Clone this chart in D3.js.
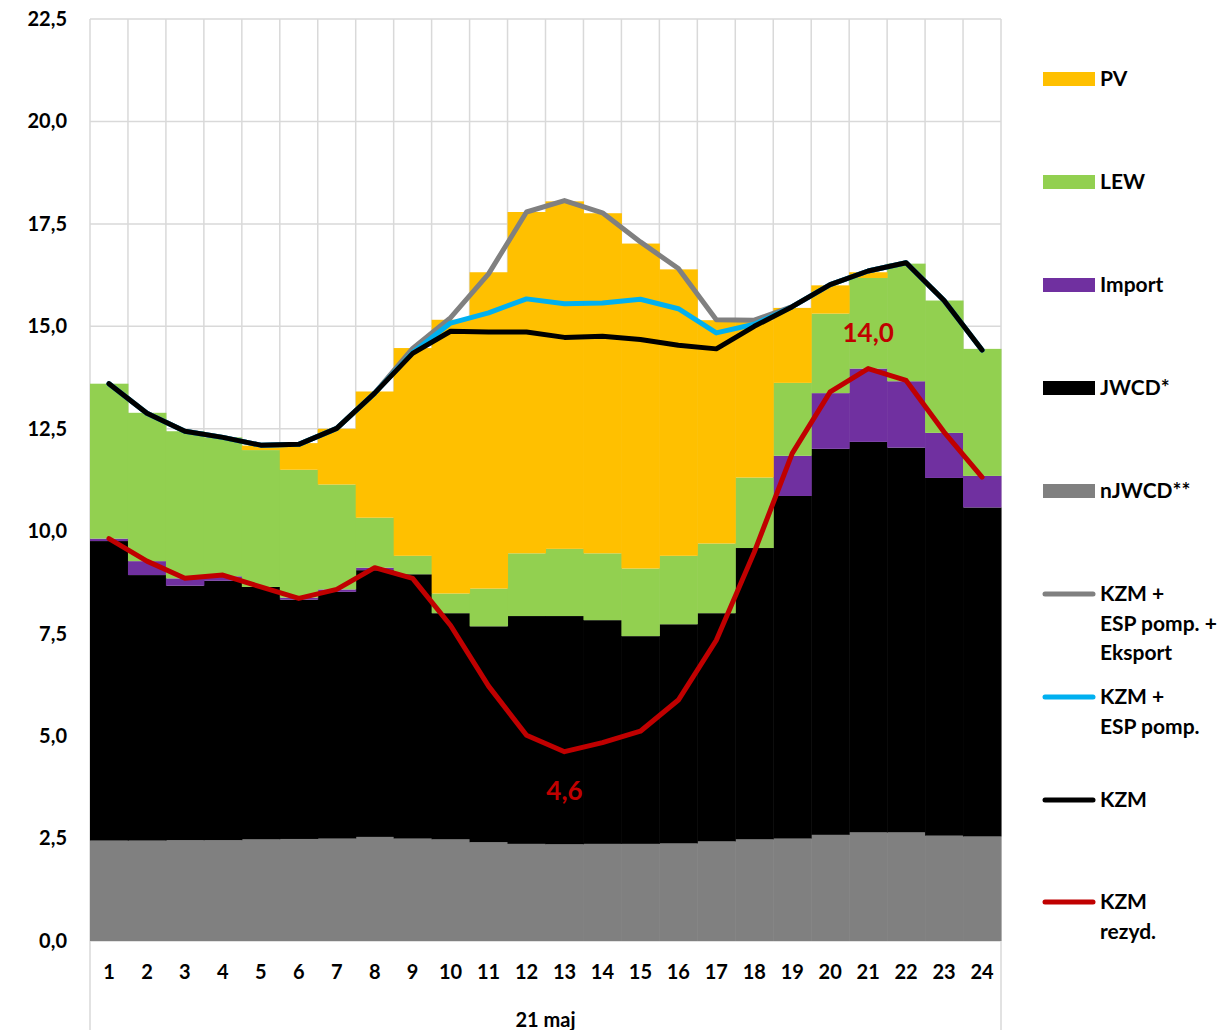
<!DOCTYPE html>
<html>
<head>
<meta charset="utf-8">
<script src="https://cdn.jsdelivr.net/npm/d3@7"></script>
<style>
  body { margin: 0; background: #fff; }
  text { font-family: Lato, 'Open Sans', sans-serif; font-weight: bold; fill: #000; }
</style>
</head>
<body>
<div id="chart"></div>
<script>
// hours of the day
var hours = ['1', '2', '3', '4', '5', '6', '7', '8', '9', '10', '11', '12',
  '13', '14', '15', '16', '17', '18', '19', '20', '21', '22', '23', '24']

// stacked sources (GW)
var nJWCD = [2.45, 2.45, 2.46, 2.46, 2.48, 2.49, 2.50, 2.54, 2.50, 2.48, 2.41, 2.37,
  2.36, 2.37, 2.37, 2.38, 2.43, 2.48, 2.50, 2.59, 2.65, 2.65, 2.57, 2.55]
var JWCD = [7.31, 6.48, 6.21, 6.33, 6.16, 5.84, 6.02, 6.51, 6.45, 5.52, 5.27, 5.56,
  5.57, 5.46, 5.07, 5.35, 5.57, 7.11, 8.36, 9.42, 9.53, 9.39, 8.73, 8.03]
var importData = [0.06, 0.34, 0.18, 0.11, 0.00, 0.05, 0.06, 0.06, 0.00, 0.00, 0.00, 0.00,
  0.00, 0.00, 0.00, 0.00, 0.00, 0.00, 0.98, 1.36, 1.79, 1.62, 1.10, 0.77]
var LEW = [3.78, 3.62, 3.59, 3.39, 3.34, 3.12, 2.56, 1.22, 0.45, 0.48, 0.92, 1.53,
  1.64, 1.63, 1.65, 1.67, 1.70, 1.72, 1.78, 1.94, 2.21, 2.87, 3.23, 3.10]
var PV = [0.00, 0.00, 0.00, 0.00, 0.11, 0.65, 1.36, 3.08, 5.07, 6.68, 7.72, 8.33,
  8.48, 8.30, 7.93, 6.99, 5.45, 3.84, 1.83, 0.69, 0.14, 0.00, 0.00, 0.00]

// demand lines
var kzmEspEksport = [13.60, 12.88, 12.44, 12.29, 12.10, 12.12, 12.51, 13.37, 14.46, 15.21, 16.28, 17.79,
  18.07, 17.77, 17.06, 16.41, 15.16, 15.15, 15.48, 16.02, 16.35, 16.55, 15.63, 14.42]
var kzmEsp = [13.60, 12.88, 12.44, 12.29, 12.10, 12.12, 12.51, 13.37, 14.36, 15.08, 15.33, 15.67,
  15.55, 15.57, 15.66, 15.43, 14.84, 15.05, 15.48, 16.02, 16.35, 16.55, 15.63, 14.42]
var kzm = [13.60, 12.88, 12.44, 12.29, 12.10, 12.12, 12.51, 13.37, 14.34, 14.88, 14.86, 14.86,
  14.73, 14.76, 14.68, 14.54, 14.45, 15.00, 15.48, 16.02, 16.35, 16.55, 15.63, 14.42]
var kzmRezyd = [9.82, 9.27, 8.85, 8.93, 8.64, 8.36, 8.58, 9.11, 8.85, 7.70, 6.22, 5.02,
  4.62, 4.84, 5.12, 5.88, 7.34, 9.49, 11.90, 13.40, 13.97, 13.68, 12.42, 11.32]

var yTicks = [0, 2.5, 5, 7.5, 10, 12.5, 15, 17.5, 20, 22.5]

var areaNames = ['nJWCD**', 'JWCD*', 'Import', 'LEW', 'PV']
var areaColors = ['#808080', '#000000', '#7030A0', '#92D050', '#FFC000']
var lineNames = [['KZM +', 'ESP pomp. +', 'Eksport'], ['KZM +', 'ESP pomp.'], ['KZM'], ['KZM', 'rezyd.']]
var lineColors = ['#808080', '#00B0F0', '#000000', '#C00000']

;(function () {
  var W = 1224
  var H = 1030
  var margin = { top: 19, right: 223, bottom: 89, left: 90 }
  var width = W - margin.left - margin.right
  var height = H - margin.top - margin.bottom

  var svg = d3.select('#chart')
    .append('svg')
    .attr('width', W)
    .attr('height', H)

  var g = svg.append('g')
    .attr('transform', 'translate(' + margin.left + ',' + margin.top + ')')

  var x = d3.scaleBand()
    .domain(hours)
    .range([0, width])
    .padding(0)

  var y = d3.scaleLinear()
    .domain([0, 22.5])
    .range([height, 0])

  // grid
  g.append('g')
    .selectAll('line')
    .data(yTicks)
    .enter().append('line')
    .attr('x1', 0)
    .attr('x2', width)
    .attr('y1', d => y(d))
    .attr('y2', d => y(d))
    .attr('stroke', '#d9d9d9')
    .attr('stroke-width', 1.5)

  var bounds = hours.map(h => x(h)).concat([width])
  g.append('g')
    .selectAll('line')
    .data(bounds)
    .enter().append('line')
    .attr('x1', d => d)
    .attr('x2', d => d)
    .attr('y1', 0)
    .attr('y2', (d, i) => (i === 0 || i === bounds.length - 1) ? H - margin.top : height)
    .attr('stroke', '#d9d9d9')
    .attr('stroke-width', 1.5)

  // stacked areas (drawn as touching columns)
  var table = hours.map((h, i) => ({
    hour: h,
    'nJWCD**': nJWCD[i],
    'JWCD*': JWCD[i],
    'Import': importData[i],
    'LEW': LEW[i],
    'PV': PV[i]
  }))
  var stacked = d3.stack().keys(areaNames)(table)
  var color = d3.scaleOrdinal().domain(areaNames).range(areaColors)

  g.append('g')
    .selectAll('g')
    .data(stacked)
    .enter().append('g')
    .attr('fill', d => color(d.key))
    .selectAll('rect')
    .data(d => d)
    .enter().append('rect')
    .attr('x', d => x(d.data.hour))
    .attr('width', x.bandwidth() + 0.5)
    .attr('y', d => y(d[1]))
    .attr('height', d => Math.max(0, y(d[0]) - y(d[1])))

  // lines
  var series = [kzmEspEksport, kzmEsp, kzm, kzmRezyd]
  var line = d3.line()
    .x((d, i) => x(hours[i]) + x.bandwidth() / 2)
    .y(d => y(d))

  series.forEach((s, k) => {
    g.append('path')
      .datum(s)
      .attr('d', line)
      .attr('fill', 'none')
      .attr('stroke', lineColors[k])
      .attr('stroke-width', 5)
      .attr('stroke-linejoin', 'round')
      .attr('stroke-linecap', 'round')
  })

  // data labels
  var maxI = kzmRezyd.indexOf(d3.max(kzmRezyd))
  var minI = kzmRezyd.indexOf(d3.min(kzmRezyd))
  var fmt = d => d3.format('.1f')(d).replace('.', ',')
  g.append('text')
    .attr('x', x(hours[maxI]) + x.bandwidth() / 2)
    .attr('y', y(kzmRezyd[maxI]) - 27)
    .attr('text-anchor', 'middle')
    .style('font-size', '26px')
    .style('fill', '#C00000')
    .text(fmt(kzmRezyd[maxI]))
  g.append('text')
    .attr('x', x(hours[minI]) + x.bandwidth() / 2)
    .attr('y', y(kzmRezyd[minI]) + 48)
    .attr('text-anchor', 'middle')
    .style('font-size', '26px')
    .style('fill', '#C00000')
    .text(fmt(kzmRezyd[minI]))

  // axes
  var yAxis = d3.axisLeft(y)
    .tickValues(yTicks)
    .tickSize(0)
    .tickPadding(23)
    .tickFormat(fmt)
  var ya = g.append('g').attr('class', 'axis y-axis').call(yAxis)
  ya.select('.domain').remove()
  ya.selectAll('text').style('font-size', '20px').style('font-family', null)

  var xAxis = d3.axisBottom(x).tickSize(0)
  var xa = g.append('g')
    .attr('class', 'axis x-axis')
    .attr('transform', 'translate(0,' + height + ')')
    .call(xAxis)
  xa.select('.domain').remove()
  xa.selectAll('text')
    .attr('y', 31)
    .attr('dy', '0.35em')
    .style('font-size', '20px')
    .style('font-family', null)

  g.append('text')
    .attr('x', width / 2)
    .attr('y', height + 79)
    .attr('dy', '0.35em')
    .attr('text-anchor', 'middle')
    .style('font-size', '20px')
    .text('21 maj')

  // legend
  var lg = svg.append('g').attr('transform', 'translate(1043,0)')
  var areaLegendY = [79, 182, 285, 388, 491]
  var legendOrder = areaNames.slice().reverse()
  legendOrder.forEach((name, i) => {
    lg.append('rect')
      .attr('x', 0)
      .attr('y', areaLegendY[i] - 7)
      .attr('width', 52)
      .attr('height', 14)
      .attr('fill', color(name))
    lg.append('text')
      .attr('x', 57)
      .attr('y', areaLegendY[i])
      .attr('dy', '0.35em')
      .style('font-size', '21px')
      .text(name)
  })

  var lineLegendY = [594, 697, 800, 902]
  lineNames.forEach((rows, i) => {
    lg.append('line')
      .attr('x1', 2)
      .attr('x2', 50)
      .attr('y1', lineLegendY[i])
      .attr('y2', lineLegendY[i])
      .attr('stroke', lineColors[i])
      .attr('stroke-width', 5)
      .attr('stroke-linecap', 'round')
    rows.forEach((r, j) => {
      lg.append('text')
        .attr('x', 57)
        .attr('y', lineLegendY[i] + j * 29.5)
        .attr('dy', '0.35em')
        .style('font-size', '21px')
        .text(r)
    })
  })
})()
</script>
</body>
</html>
